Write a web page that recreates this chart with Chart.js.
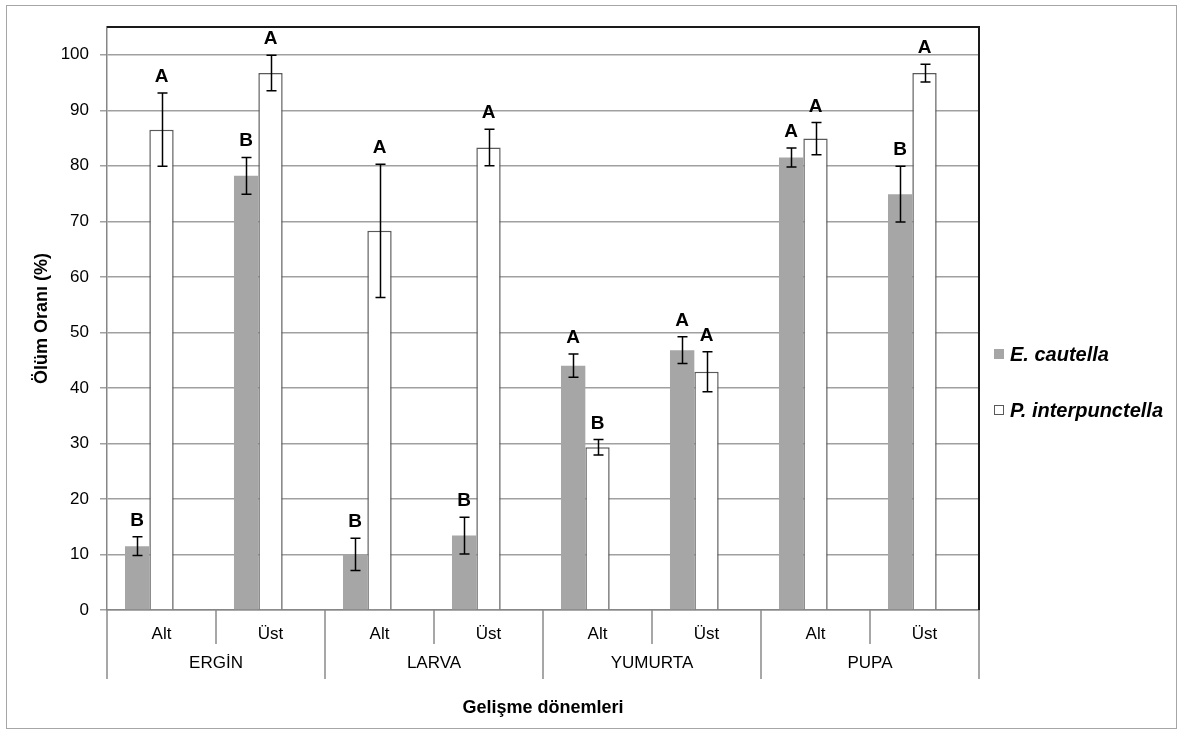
<!DOCTYPE html>
<html>
<head>
<meta charset="utf-8">
<script src="https://cdn.jsdelivr.net/npm/chart.js@4"></script>
<style>
  body { margin: 0; background: #fff; }
  #wrap { position: relative; width: 1179px; height: 731px; }
  .leg { position: absolute; left: 994px; font: italic bold 20px "Liberation Sans", Arial, sans-serif; color: #000; line-height: 20px; }
  .leg span { display: inline-block; width: 10px; height: 10px; margin-right: 6px; vertical-align: 2px; box-sizing: border-box; }
</style>
</head>
<body>
<div id="wrap">
  <canvas id="chart" width="1179" height="731"></canvas>
  <div class="leg" style="top:344px"><span style="background:#a6a6a6"></span>E. cautella</div>
  <div class="leg" style="top:400px"><span style="background:#fff;border:1px solid #595959"></span>P. interpunctella</div>
</div>
<script>
// categories (lower level) and groups (upper level)
const categories = ['Alt', 'Üst', 'Alt', 'Üst', 'Alt', 'Üst', 'Alt', 'Üst'];
const groups = ['ERGİN', 'LARVA', 'YUMURTA', 'PUPA'];

// E. cautella
const ecValues = [11.5, 78.2, 10.0, 13.4, 44.0, 46.8, 81.5, 74.9];
const ecErrors = [1.7, 3.3, 2.9, 3.3, 2.1, 2.4, 1.7, 5.0];
const ecLetters = ['B', 'B', 'B', 'B', 'A', 'A', 'A', 'B'];

// P. interpunctella
const piValues = [86.5, 96.7, 68.3, 83.3, 29.3, 42.9, 84.9, 96.7];
const piErrors = [6.6, 3.2, 12.0, 3.3, 1.4, 3.6, 2.9, 1.6];
const piLetters = ['A', 'A', 'A', 'A', 'B', 'A', 'A', 'A'];

// y axis ticks
const yTicks = [0, 10, 20, 30, 40, 50, 60, 70, 80, 90, 100];

const FONT = '"Liberation Sans", Arial, sans-serif';

// error bars + significance letters on top of each bar
const errorBars = {
  id: 'errorBars',
  afterDatasetsDraw(chart) {
    const ctx = chart.ctx;
    const y = chart.scales.y;
    const sets = [[0, ecValues, ecErrors, ecLetters], [1, piValues, piErrors, piLetters]];
    ctx.save();
    sets.forEach(([idx, vals, errs, letters]) => {
      const meta = chart.getDatasetMeta(idx);
      meta.data.forEach((bar, i) => {
        const x = Math.round(bar.x) + 0.5;
        const top = y.getPixelForValue(vals[i] + errs[i]);
        const bot = y.getPixelForValue(vals[i] - errs[i]);
        ctx.strokeStyle = '#000';
        ctx.lineWidth = 1.5;
        ctx.beginPath();
        ctx.moveTo(x, top); ctx.lineTo(x, bot);
        ctx.moveTo(x - 5, top); ctx.lineTo(x + 5, top);
        ctx.moveTo(x - 5, bot); ctx.lineTo(x + 5, bot);
        ctx.stroke();
        ctx.fillStyle = '#000';
        ctx.font = 'bold 19px ' + FONT;
        ctx.textAlign = 'center';
        ctx.textBaseline = 'alphabetic';
        ctx.fillText(letters[i], bar.x, top - 11);
      });
    });
    ctx.restore();
  }
};

// frame, two-level x axis and outer border
const frame = {
  id: 'frame',
  afterDraw(chart) {
    const ctx = chart.ctx;
    const a = chart.chartArea;
    const catW = (a.right - a.left) / categories.length;
    ctx.save();
    // black top / right border of plot area
    ctx.strokeStyle = '#1a1a1a';
    ctx.lineWidth = 2;
    ctx.beginPath();
    ctx.moveTo(a.left, a.top); ctx.lineTo(a.right, a.top); ctx.lineTo(a.right, a.bottom);
    ctx.stroke();
    // category separators below the axis
    ctx.strokeStyle = '#8a8a8a';
    ctx.lineWidth = 1.5;
    for (let i = 0; i <= categories.length; i++) {
      const x = Math.round(a.left + i * catW);
      ctx.beginPath();
      ctx.moveTo(x, a.bottom);
      ctx.lineTo(x, a.bottom + (i % 2 === 0 ? 69 : 34));
      ctx.stroke();
    }
    // group labels
    ctx.fillStyle = '#000';
    ctx.font = '17px ' + FONT;
    ctx.textAlign = 'center';
    ctx.textBaseline = 'middle';
    groups.forEach((g, i) => {
      ctx.fillText(g, a.left + (i * 2 + 1) * catW, a.bottom + 53);
    });
    // outer chart border
    ctx.strokeStyle = '#a6a6a6';
    ctx.lineWidth = 1;
    ctx.strokeRect(6.5, 5.5, 1170, 723);
    ctx.restore();
  }
};

new Chart(document.getElementById('chart'), {
  type: 'bar',
  data: {
    labels: categories,
    datasets: [
      { label: 'E. cautella', data: ecValues, backgroundColor: '#a6a6a6', borderWidth: 0 },
      { label: 'P. interpunctella', data: piValues, backgroundColor: '#ffffff', borderColor: '#595959', borderWidth: 1.5 },
      { label: '', data: categories.map(() => null) } // empty third slot, like the source
    ]
  },
  options: {
    responsive: false,
    animation: false,
    devicePixelRatio: 1,
    categoryPercentage: 0.67,
    barPercentage: 1.0,
    layout: { padding: { left: 0, right: 200, top: 27, bottom: 0 } },
    plugins: { legend: { display: false }, tooltip: { enabled: false } },
    scales: {
      x: {
        grid: { display: false, drawTicks: false },
        border: { color: '#868686', width: 1.5 },
        ticks: { color: '#000', font: { family: FONT, size: 17 }, padding: 14, maxRotation: 0 },
        title: { display: true, text: 'Gelişme dönemleri', color: '#000', font: { family: FONT, size: 18, weight: 'bold' }, padding: { top: 0, bottom: 12 } },
        afterFit(s) { s.height = 121; }
      },
      y: {
        min: 0,
        max: 105,
        afterBuildTicks(s) { s.ticks = yTicks.map(v => ({ value: v })); },
        grid: { color: '#a0a0a0', lineWidth: 1.5, tickLength: 7 },
        border: { color: '#868686', width: 1.5 },
        ticks: { color: '#000', font: { family: FONT, size: 17 }, padding: 11 },
        title: { display: true, text: 'Ölüm Oranı (%)', color: '#000', font: { family: FONT, size: 18, weight: 'bold' }, padding: { top: 31, bottom: 0 } },
        afterFit(s) { s.width = 107; }
      }
    }
  },
  plugins: [errorBars, frame]
});
</script>
</body>
</html>
